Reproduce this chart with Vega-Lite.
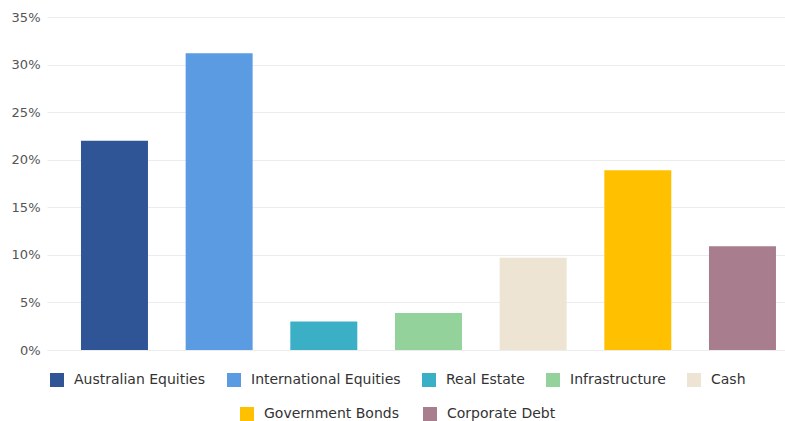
{
  "$schema": "https://vega.github.io/schema/vega-lite/v6.json",
  "width": 738,
  "height": 333,
  "autosize": {"type": "none"},
  "padding": {"left": 47, "top": 17, "right": 0, "bottom": 71},
  "background": "#ffffff",
  "config": {
    "view": {"stroke": null},
    "font": "DejaVu Sans",
    "axis": {"labelFont": "DejaVu Sans"},
    "legend": {"labelFont": "DejaVu Sans"}
  },
  "data": {
    "values": [
      {"asset": "Australian Equities", "weight": 22.0},
      {"asset": "International Equities", "weight": 31.2},
      {"asset": "Real Estate", "weight": 3.0},
      {"asset": "Infrastructure", "weight": 3.9},
      {"asset": "Cash", "weight": 9.7},
      {"asset": "Government Bonds", "weight": 18.9},
      {"asset": "Corporate Debt", "weight": 10.9}
    ]
  },
  "encoding": {
    "x": {
      "field": "asset",
      "type": "nominal",
      "axis": null,
      "scale": {
        "domain": ["Australian Equities", "International Equities", "Real Estate", "Infrastructure", "Cash", "Government Bonds", "Corporate Debt"],
        "paddingInner": 0.36,
        "paddingOuter": 0.2055,
        "align": 0.79
      }
    },
    "y": {
      "field": "weight",
      "type": "quantitative",
      "scale": {"domain": [0, 35], "nice": false},
      "axis": {
        "title": null,
        "values": [0, 5, 10, 15, 20, 25, 30, 35],
        "labelExpr": "datum.value + '%'",
        "domain": false,
        "ticks": false,
        "labelPadding": 7,
        "labelFontSize": 13,
        "labelColor": "#555555",
        "gridColor": "#ececec",
        "gridWidth": 1
      }
    }
  },
  "layer": [
    {
      "transform": [{"filter": {"field": "asset", "oneOf": ["Australian Equities", "International Equities", "Real Estate", "Infrastructure", "Cash"]}}],
      "mark": {"type": "bar"},
      "encoding": {
        "color": {
          "field": "asset",
          "type": "nominal",
          "scale": {
            "domain": ["Australian Equities", "International Equities", "Real Estate", "Infrastructure", "Cash"],
            "range": ["#2f5597", "#5a9be2", "#3aafc6", "#93d39b", "#ede4d4"]
          },
          "legend": {
            "title": null,
            "orient": "none",
            "direction": "horizontal",
            "legendX": 3,
            "legendY": 356,
            "symbolType": "square",
            "symbolSize": 196,
            "symbolStrokeWidth": 0,
            "labelFontSize": 14,
            "labelColor": "#333333",
            "labelOffset": 10,
            "columnPadding": 21,
            "labelLimit": 400
          }
        }
      }
    },
    {
      "transform": [{"filter": {"field": "asset", "oneOf": ["Government Bonds", "Corporate Debt"]}}],
      "mark": {"type": "bar"},
      "encoding": {
        "color": {
          "field": "asset",
          "type": "nominal",
          "scale": {
            "domain": ["Government Bonds", "Corporate Debt"],
            "range": ["#ffc000", "#a87d8d"]
          },
          "legend": {
            "title": null,
            "orient": "none",
            "direction": "horizontal",
            "legendX": 193,
            "legendY": 390,
            "symbolType": "square",
            "symbolSize": 196,
            "symbolStrokeWidth": 0,
            "labelFontSize": 14,
            "labelColor": "#333333",
            "labelOffset": 10,
            "columnPadding": 24,
            "labelLimit": 400
          }
        }
      }
    }
  ],
  "resolve": {"scale": {"color": "independent"}, "legend": {"color": "independent"}}
}
